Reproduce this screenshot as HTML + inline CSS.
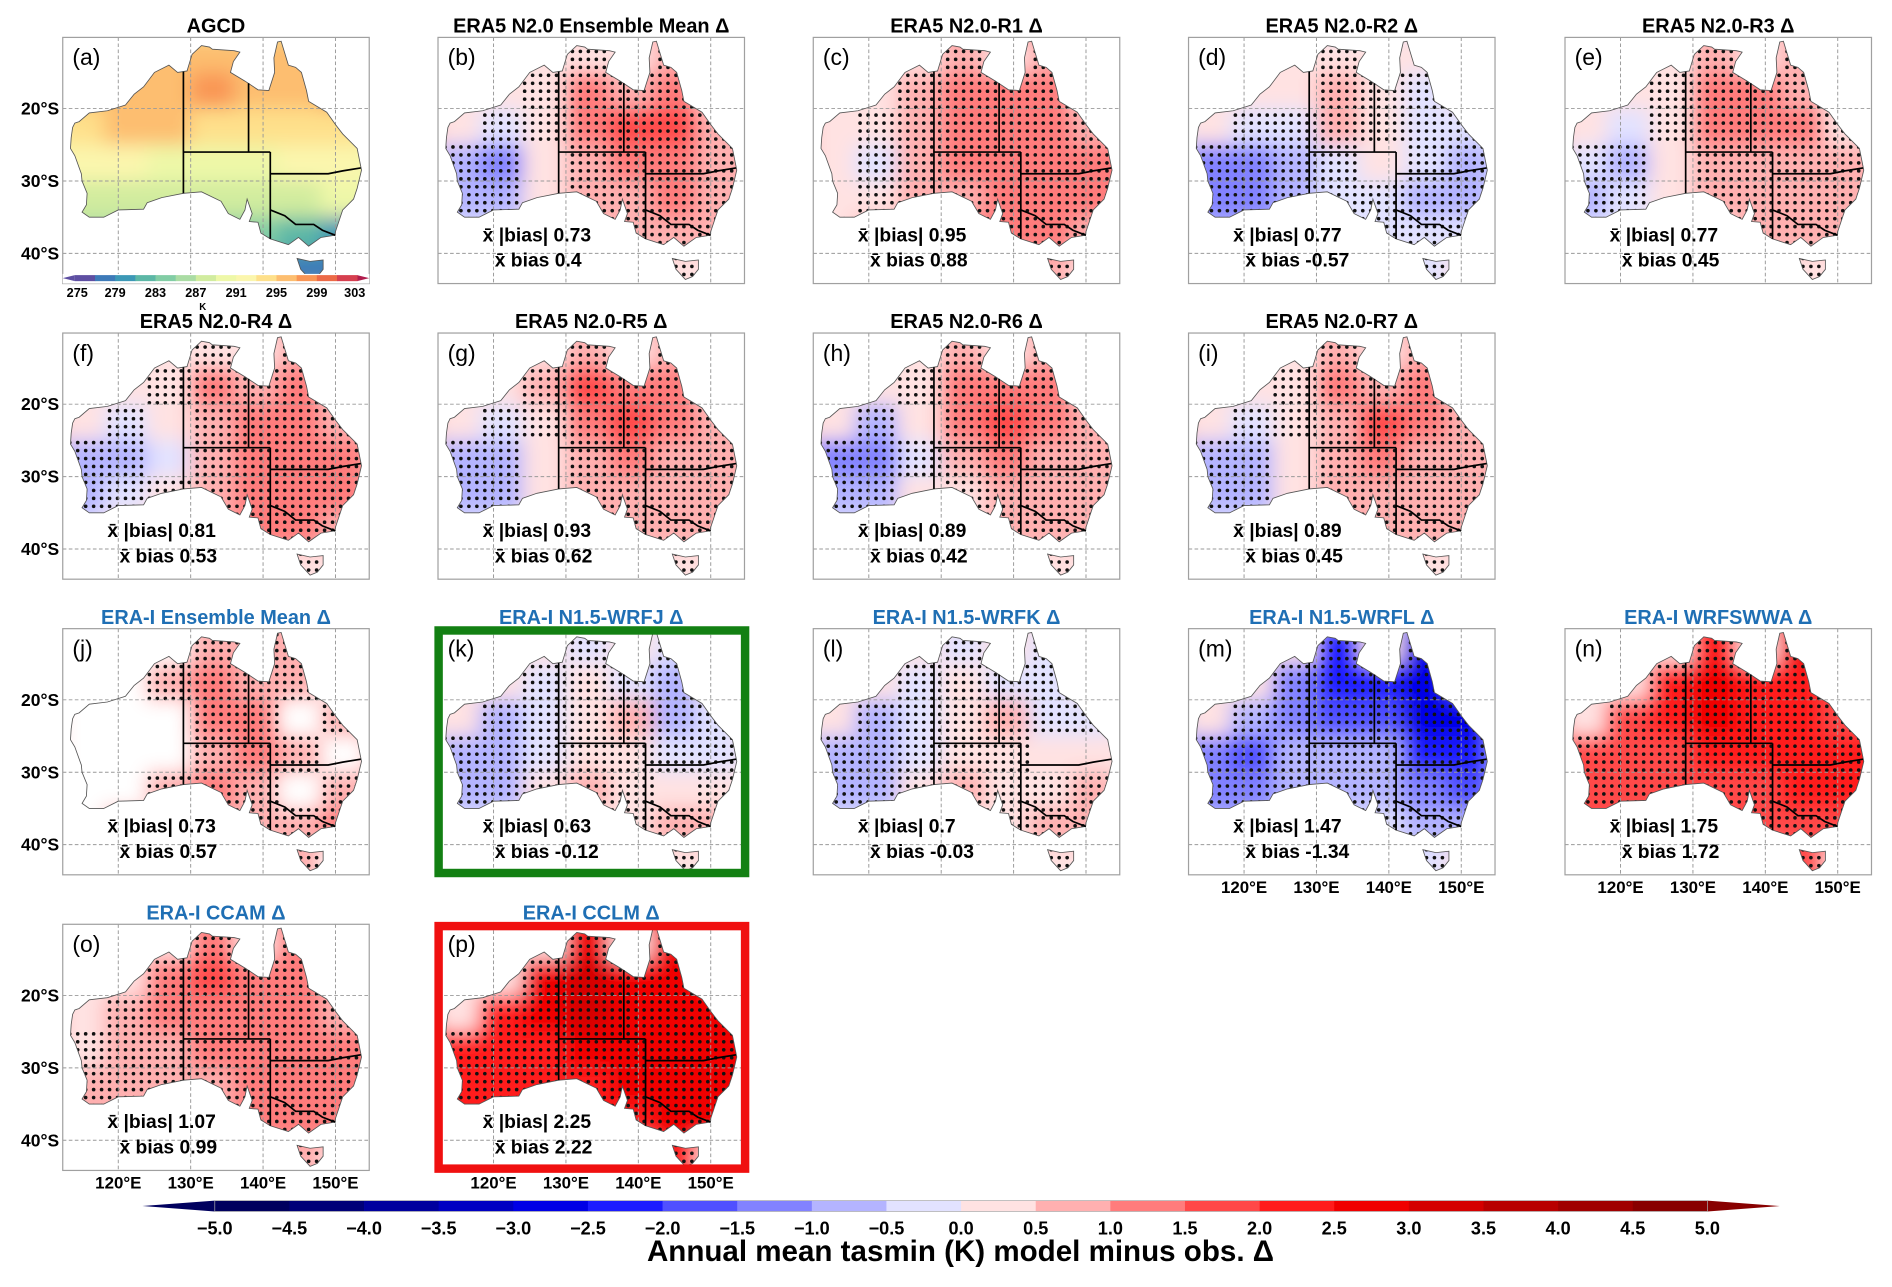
<!DOCTYPE html>
<html><head><meta charset="utf-8">
<style>
html,body{margin:0;padding:0;background:#fff;}
svg{display:block;font-family:"Liberation Sans",sans-serif;}
</style></head>
<body>
<svg id="fig" width="1892" height="1287" viewBox="0 0 1568 1066.6" preserveAspectRatio="none" xmlns="http://www.w3.org/2000/svg">
<defs>
<clipPath id="ausClip" clipPathUnits="userSpaceOnUse"><path id="ausClipPath" d=""/></clipPath>
<filter id="blur" x="-5%" y="-5%" width="110%" height="110%"><feGaussianBlur stdDeviation="8"/></filter>
</defs>
<g id="panels"></g>
<g id="boxes"></g>
<g id="cbar"></g>
</svg>
<script>
// ---------- data ----------
const gridLonEdges = [112,118,124,130,136,142,148,154];
const gridLatEdges = [-10,-15,-20,-25,-30,-35,-40,-45];
const agcdLevels = [275,277,279,281,283,285,287,289,291,293,295,297,299,301,303];
const agcdTickLabels = [275,279,283,287,291,295,299,303];
const biasLevels = [-5,-4.5,-4,-3.5,-3,-2.5,-2,-1.5,-1,-0.5,0,0.5,1,1.5,2,2.5,3,3.5,4,4.5,5];
const biasTickLabels = ["−5.0","−4.5","−4.0","−3.5","−3.0","−2.5","−2.0","−1.5","−1.0","−0.5","0.0","0.5","1.0","1.5","2.0","2.5","3.0","3.5","4.0","4.5","5.0"];
const lonTicks = [120,130,140,150];
const latTicks = [-20,-30,-40];

const gridA = [[296,296,296,296,296,296,296],[296,296,296,297,296,296,297],[294,295,295,294,293,294,294],[291,291,290,289,289,291,292],[288,287,287,287,288,288,289],[285,285,284,284,283,281,280],[279,279,279,279,279,278,278]];
const gridB = [[0,0,0,0.3,0,0.5,0],[0,0,0.3,1.2,0.8,1.0,0.2],[0,-0.3,0.3,1.0,1.5,1.5,0.5],[-0.8,-1.2,0,0.6,1.0,1.0,0.8],[-1.0,-0.8,0.2,0.5,0.8,1.0,0.8],[-0.5,-0.3,0,0.5,0.8,0.8,0.5],[0,0,0,0,0,0.3,0]];
const gridC = [[0,0,0,0.8,0,0.8,0],[0,0,0.8,1.2,1.0,1.2,0.3],[0,0.3,0.8,1.3,1.3,1.2,0.6],[0.2,-0.3,0.5,1.0,1.3,1.3,1.0],[0,0.3,0.6,0.8,1.2,1.3,1.0],[0.3,0.5,0.8,1.0,1.0,1.0,0.8],[0,0,0,0,0,0.5,0]];
const gridD = [[0,0,0,0.3,0,0,0],[0,0,0,0.5,0.3,-0.3,0],[0,-0.5,-0.3,0.5,0.3,-0.3,-0.3],[-1.2,-1.5,-0.8,-0.3,0,-0.5,-0.8],[-1.3,-1.2,-0.8,-0.5,-0.5,-1.0,-0.8],[-1.0,-1.0,-0.8,-0.5,-0.3,-0.5,-0.5],[0,0,0,0,0,-0.3,0]];
const gridE = [[0,0,0,0.5,0,0.5,0],[0,0,0.3,1.3,1.0,0.8,0],[0,-0.2,0.3,1.2,1.2,1.0,0.3],[-0.5,-1.0,0,0.5,0.5,0.6,0.5],[-0.6,-0.5,0.2,0.5,0.5,0.8,0.6],[-0.3,-0.2,0,0.3,0.5,0.6,0.5],[0,0,0,0,0,0.3,0]];
const gridF = [[0,0,0,0.3,0,0.5,0],[0,0,0.3,1.0,0.6,1.0,0],[0,-0.5,0,0.8,1.3,1.2,0.8],[-1.0,-1.0,-0.2,0.5,1.2,1.3,1.0],[-0.8,-0.5,0.3,0.5,1.0,1.3,1.3],[-0.3,0,0.3,0.6,1.0,1.0,0.8],[0,0,0,0,0,0.3,0]];
const gridG = [[0,0,0,0.8,0,0.8,0],[0,0,0.5,1.5,1.2,1.3,0],[0,-0.5,0.3,1.3,1.8,1.3,0.5],[-1.0,-1.0,0,0.6,1.0,0.8,0.6],[-0.8,-0.6,0.2,0.5,0.8,0.9,0.6],[-0.3,-0.2,0.2,0.5,0.8,0.8,0.5],[0,0,0,0,0,0.3,0]];
const gridH = [[0,0,0,0.5,0,0.5,0],[0,0,0.3,1.2,1.0,1.0,0],[0,-0.8,0,1.0,1.5,1.2,0.5],[-1.3,-1.3,-0.3,0.5,1.0,0.8,0.6],[-1.0,-0.8,0,0.4,0.6,0.8,0.6],[-0.5,-0.3,0,0.3,0.5,0.8,0.5],[0,0,0,0,0,0.3,0]];
const gridI = [[0,0,0,0.8,0,0.5,0],[0,0,0.3,1.0,0.8,1.0,0],[0,-0.5,0.3,0.8,1.5,1.2,0.5],[-0.8,-1.0,0,0.5,1.0,0.8,0.6],[-0.8,-0.6,0.2,0.5,0.8,0.9,0.8],[-0.3,-0.2,0.2,0.5,0.6,0.8,0.5],[0,0,0,0,0,0.3,0]];
const gridJ = [[null,null,null,0.8,0.5,0.5,null],[null,null,0.5,1.0,0.5,0.8,null],[null,null,null,1.0,1.0,null,0.5],[null,null,null,0.8,1.0,0.8,null],[null,null,0.8,1.0,0.8,null,0.8],[null,0.5,null,0.8,0.8,0.8,1.0],[null,null,null,null,null,0.8,null]];
const gridK = [[0,0,0,-0.5,0,-0.3,0],[0,0,-0.5,0.3,-0.5,-0.8,0],[0,-0.8,-0.5,0.3,0.5,-0.8,-0.5],[-1.0,-1.0,-0.5,0.3,0.3,-0.3,-0.3],[-0.8,-0.8,0.3,0.5,0.3,0,0.3],[-0.5,-0.5,0,0.3,0.3,0.5,0.8],[0,0,0,0,0,0.3,0]];
const gridL = [[0,0,0,-0.3,0,-0.3,0],[0,0,-0.5,0.3,-0.3,-0.5,0],[0,-0.8,-0.5,0.3,0.5,-0.5,-0.3],[-1.0,-1.0,-0.5,0.3,0.3,0,0],[-0.8,-0.8,0.3,0.5,0.3,0.3,0.5],[-0.5,-0.3,0,0.3,0.3,0.5,0.8],[0,0,0,0,0,0.3,0]];
const gridM = [[0,0,0,-2.5,0,-3.0,0],[0,0,-1.5,-2.5,-2.5,-3.0,-2.0],[0,-1.0,-1.5,-2.0,-2.0,-3.0,-3.0],[-1.5,-2.0,-1.0,-1.0,-1.0,-2.5,-2.5],[-1.5,-1.5,-1.0,-0.8,-0.8,-1.5,-2.0],[-1.0,-0.8,-0.5,-0.5,-0.5,-0.8,-1.0],[0,0,0,0,0,-0.5,0]];
const gridN = [[0,0,0,2.0,0,2.5,0],[0,0,2.0,2.5,2.0,2.0,1.5],[0,1.5,2.0,2.5,2.2,2.0,1.8],[1.5,1.5,1.8,2.0,2.0,2.0,2.0],[1.5,1.5,1.5,1.8,1.8,2.0,2.0],[1.5,1.5,1.5,1.5,1.5,1.5,1.5],[0,0,0,0,0,1.5,0]];
const gridO = [[0,0,0,1.2,0,1.0,0],[0,0,1.0,1.5,1.2,1.2,0.8],[0,0.5,1.0,1.2,1.2,1.0,0.8],[0.3,0.5,0.8,1.0,1.0,1.0,1.0],[0.5,0.5,0.8,0.8,1.0,1.2,1.2],[0.5,0.5,0.5,0.8,1.0,1.2,1.3],[0,0,0,0,0,0.8,0]];
const gridP = [[0,0,0,2.8,0,2.5,0],[0,0,2.5,3.0,2.8,2.8,2.2],[0,2.2,2.5,3.0,2.8,2.8,2.5],[2.0,2.0,2.2,2.5,2.5,2.5,2.5],[2.0,2.0,2.0,2.2,2.5,2.5,2.5],[2.0,2.0,2.0,2.0,2.2,2.5,2.5],[0,0,0,0,0,2.0,0]];

const absBias = [null,0.73,0.95,0.77,0.77,0.81,0.93,0.89,0.89,0.73,0.63,0.7,1.47,1.75,1.07,2.25];
const meanBias = [null,"0.4","0.88","-0.57","0.45","0.53","0.62","0.42","0.45","0.57","-0.12","-0.03","-1.34","1.72","0.99","2.22"];

// ---------- styles ----------
const agcdColors = ['#5e4fa2','#3d7ab8','#3c98b6','#5cb7a6','#82cda5','#aadca4','#d1ec9f','#eef8a8','#fbf6ad','#fee08b','#fdbe70','#f99555','#ec6a47','#d63f4f'];
const biasColors = ['#00005e','#000078','#00009e','#0000c2','#0000e6','#1c1cff','#5050ff','#8282ff','#b4b4ff','#e2e2ff','#ffe2e2','#ffb0b0','#ff7c7c','#ff4848','#ff1c1c','#f00000','#d40000','#b80000','#a00000','#880000'];

const NS = "http://www.w3.org/2000/svg";
function el(tag, attrs, parent){const e=document.createElementNS(NS,tag);for(const k in attrs)e.setAttribute(k,attrs[k]);if(parent)parent.appendChild(e);return e;}

function px(lon){return (lon-112.33)*6;}
function py(lat){return (-lat-10.17)*6;}

const coast = [[113.7,-22.6],[114.0,-22.0],[114.6,-21.8],[116,-20.6],[118.5,-20.3],[121,-19.5],[122.2,-18],[123.5,-17],[125,-15],[127,-14],[128.2,-15],[129.5,-14.8],[130.2,-12.5],[131.5,-11.3],[132.6,-11.5],[133,-11.8],[136,-12],[136.8,-12.2],[135.9,-13.5],[135.5,-15],[137.5,-16.2],[139.3,-17.4],[140.8,-17.5],[141.6,-15],[141.5,-13],[142.0,-10.8],[142.5,-10.7],[143.5,-14],[144.5,-14.3],[145.3,-15],[146,-17.5],[146.3,-19],[148.8,-20.5],[150,-22.2],[151,-23.5],[153,-25.5],[153.6,-28.5],[153,-31],[152.5,-32.5],[151,-34],[150,-37],[149.9,-37.5],[148,-37.8],[146.3,-39],[144.9,-37.8],[143.5,-38.8],[141,-38],[139.7,-37.2],[139.3,-35.7],[138.1,-35.6],[138.5,-34.5],[137.8,-32.5],[137.5,-34],[136.8,-35.3],[135.8,-34.8],[135.2,-34.5],[134.2,-32.8],[131.5,-31.5],[129,-31.7],[126,-32.3],[124,-33],[123.5,-33.9],[120,-34],[118,-35],[116,-35],[115,-34.3],[115.6,-33.3],[115.7,-31.7],[115,-30],[114.9,-29],[114,-26.5],[113.4,-25.5],[113.5,-24]];
const tas = [[144.7,-40.7],[146.5,-41.1],[148.3,-40.9],[148.3,-42.2],[147.5,-43.2],[146.5,-43.6],[145.2,-42.2]];
const borders = [
 [[129,-14.9],[129,-31.7]],
 [[129,-26],[141,-26]],
 [[138,-16.5],[138,-26]],
 [[141,-26],[141,-38]],
 [[141,-29],[149,-29],[151,-28.6],[153.5,-28.2]],
 [[141,-34],[143,-34.8],[144.5,-36],[147,-36],[148.2,-36.8],[150,-37.5]]
];
function poly(pts,close){return pts.map((p,i)=>(i?'L':'M')+px(p[0]).toFixed(1)+' '+py(p[1]).toFixed(1)).join(' ')+(close?' Z':'');}
const landPath = poly(coast,true)+' '+poly(tas,true);
document.getElementById('ausClipPath').setAttribute('d',landPath);

function colorFor(v,levels,colors){
  if(v===null) return '#ffffff';
  if(v<levels[0]) return colors[0];
  for(let i=0;i<colors.length;i++){ if(v<levels[i+1]) return colors[i]; }
  return colors[colors.length-1];
}
function cellValue(grid,lon,lat){
  let c=-1,r=-1;
  for(let i=0;i<gridLonEdges.length-1;i++) if(lon>=gridLonEdges[i]&&lon<gridLonEdges[i+1]) c=i;
  for(let j=0;j<gridLatEdges.length-1;j++) if(lat<=gridLatEdges[j]&&lat>gridLatEdges[j+1]) r=j;
  if(c<0||r<0) return null;
  return grid[r][c];
}

const colX=[52,363,674,985,1297], rowY=[31,276,521,766];
const panels=[
 {lab:'a',t:'AGCD',c:0,r:0,g:gridA,blue:false},
 {lab:'b',t:'ERA5 N2.0 Ensemble Mean Δ',c:1,r:0,g:gridB},
 {lab:'c',t:'ERA5 N2.0-R1 Δ',c:2,r:0,g:gridC},
 {lab:'d',t:'ERA5 N2.0-R2 Δ',c:3,r:0,g:gridD},
 {lab:'e',t:'ERA5 N2.0-R3 Δ',c:4,r:0,g:gridE},
 {lab:'f',t:'ERA5 N2.0-R4 Δ',c:0,r:1,g:gridF},
 {lab:'g',t:'ERA5 N2.0-R5 Δ',c:1,r:1,g:gridG},
 {lab:'h',t:'ERA5 N2.0-R6 Δ',c:2,r:1,g:gridH},
 {lab:'i',t:'ERA5 N2.0-R7 Δ',c:3,r:1,g:gridI},
 {lab:'j',t:'ERA-I Ensemble Mean Δ',c:0,r:2,g:gridJ,blue:true},
 {lab:'k',t:'ERA-I N1.5-WRFJ Δ',c:1,r:2,g:gridK,blue:true,box:'#138013'},
 {lab:'l',t:'ERA-I N1.5-WRFK Δ',c:2,r:2,g:gridL,blue:true},
 {lab:'m',t:'ERA-I N1.5-WRFL Δ',c:3,r:2,g:gridM,blue:true,xl:true},
 {lab:'n',t:'ERA-I WRFSWWA Δ',c:4,r:2,g:gridN,blue:true,xl:true},
 {lab:'o',t:'ERA-I CCAM Δ',c:0,r:3,g:gridO,blue:true,xl:true},
 {lab:'p',t:'ERA-I CCLM Δ',c:1,r:3,g:gridP,blue:true,xl:true,box:'#f01010'}
];

const root=document.getElementById('panels');
const boxes=document.getElementById('boxes');
panels.forEach((p,idx)=>{
  const x0=colX[p.c], y0=rowY[p.r];
  const isA = idx===0;
  const levels = isA?agcdLevels:biasLevels, colors = isA?agcdColors:biasColors;
  const title=el('text',{x:x0+127,y:y0-4,'text-anchor':'middle','font-size':16.5,'font-weight':'bold',fill:p.blue?'#1f6fb4':'#000'},root);
  title.textContent=p.t;
  
  
  const g=el('g',{transform:`translate(${x0},${y0})`},root);
  
  
  el('rect',{x:0,y:0,width:254,height:204,fill:'#fff'},g);
  const land=el('g',{'clip-path':'url(#ausClip)'},g);
  const cells=el('g',{filter:'url(#blur)'},land);
  el('rect',{x:-10,y:-10,width:274,height:224,fill:colorFor(p.g[3][3],levels,colors)},cells);
  for(let r=0;r<p.g.length;r++)for(let c=0;c<p.g[r].length;c++){
    const v=p.g[r][c];
    const cell=el('rect',{x:px(gridLonEdges[c]),y:py(gridLatEdges[r]),width:px(gridLonEdges[c+1])-px(gridLonEdges[c])+0.5,height:py(gridLatEdges[r+1])-py(gridLatEdges[r])+0.5,fill:colorFor(v,levels,colors)},cells);
    
    
  }
  if(!isA){
    const dots=el('g',{fill:'#111'},land);
    for(let lon=113.3;lon<154;lon+=1.1){
      for(let lat=-11;lat>-44;lat-=1.1){
        const v=cellValue(p.g,lon,lat);
        if(v!==null && Math.abs(v)>=0.3){
          el('circle',{cx:px(lon).toFixed(1),cy:py(lat).toFixed(1),r:1.5},dots);
        }
      }
    }
  }
  lonTicks.forEach(l=>el('line',{x1:px(l),y1:0,x2:px(l),y2:204,stroke:'#999','stroke-width':0.8,'stroke-dasharray':'3,2'},g));
  latTicks.forEach(l=>el('line',{x1:0,y1:py(l),x2:254,y2:py(l),stroke:'#999','stroke-width':0.8,'stroke-dasharray':'3,2'},g));
  el('path',{d:landPath,fill:'none',stroke:'#555','stroke-width':0.7},g);
  borders.forEach(b=>el('path',{d:poly(b,false),fill:'none',stroke:'#000','stroke-width':1.4},g));
  el('rect',{x:0,y:0,width:254,height:204,fill:'none',stroke:'#a0a0a0','stroke-width':1},g);
  const lb=el('text',{x:8,y:23,'font-size':19,fill:'#000'},g);
  lb.textContent='('+p.lab+')';
  
  
  if(!isA){
    const s1=el('text',{x:37,y:169,'font-size':16,'font-weight':'bold'},g);
    s1.textContent='x\u0304  |bias| '+absBias[idx];
    
    
    const s2=el('text',{x:47,y:190,'font-size':16,'font-weight':'bold'},g);
    s2.textContent='x\u0304 bias '+meanBias[idx];
    
    
  } else {
    const cb=el('g',{},g);
    
    
    const cx0=10, cx1=244, w=(cx1-cx0)/agcdColors.length;
    el('rect',{x:0,y:196,width:254,height:8,fill:'#fff'},cb);
    el('polygon',{points:`0,199.5 ${cx0},197 ${cx0},202`,fill:agcdColors[0]},cb);
    el('polygon',{points:`254,199.5 ${cx1},197 ${cx1},202`,fill:'#b01c4c'},cb);
    agcdColors.forEach((col,i)=>el('rect',{x:cx0+i*w,y:197,width:w+0.3,height:5,fill:col},cb));
    agcdTickLabels.forEach(v=>{
      const t=el('text',{x:cx0+(v-275)/2*w+ (v===275?2:v===303?-2:0),y:215,'text-anchor':'middle','font-size':10.5,'font-weight':'bold'},cb);
      t.textContent=v;
    });
    const k=el('text',{x:116,y:226,'text-anchor':'middle','font-size':8,'font-weight':'bold'},cb);
    k.textContent='K';
  }
  if(p.c===0){
    latTicks.forEach(l=>{
      const t=el('text',{x:x0-3,y:y0+py(l)+5,'text-anchor':'end','font-size':14.5,'font-weight':'bold'},root);
      t.textContent=(-l)+'°S';
      
      
    });
  }
  if(p.xl){
    lonTicks.forEach(l=>{
      const t=el('text',{x:x0+px(l),y:y0+219,'text-anchor':'middle','font-size':14,'font-weight':'bold'},root);
      t.textContent=l+'°E';
      
      
    });
  }
  if(p.box){
    const b=el('rect',{x:x0+0.5,y:y0+1.5,width:254,height:201,fill:'none',stroke:p.box,'stroke-width':7});
    
    
    boxes.appendChild(b);
  }
});

// main colorbar
const cbg=document.getElementById('cbar');


const bx0=178,bx1=1415,by=995,bh=9;
const segW=(bx1-bx0)/biasColors.length;
function cbX(v){return bx0+(v-biasLevels[0])/(biasLevels[biasLevels.length-1]-biasLevels[0])*(bx1-bx0);}
el('polygon',{points:`118,${by+bh/2} ${bx0},${by} ${bx0},${by+bh}`,fill:biasColors[0]},cbg);
el('polygon',{points:`1475,${by+bh/2} ${bx1},${by} ${bx1},${by+bh}`,fill:biasColors[biasColors.length-1]},cbg);
biasColors.forEach((c,i)=>el('rect',{x:cbX(biasLevels[i]),y:by,width:segW+0.3,height:bh,fill:c},cbg));
el('rect',{x:bx0,y:by,width:bx1-bx0,height:bh,fill:'none',stroke:'#aaa','stroke-width':0.6},cbg);
biasLevels.forEach((v,i)=>{
  const t=el('text',{x:cbX(v),y:1023,'text-anchor':'middle','font-size':15,'font-weight':'bold'},cbg);
  t.textContent=biasTickLabels[i];
  
  
});
const ct=el('text',{x:796,y:1045,'text-anchor':'middle','font-size':24.5,'font-weight':'bold'},cbg);
ct.textContent='Annual mean tasmin (K) model minus obs. Δ';


</script>
</body></html>
